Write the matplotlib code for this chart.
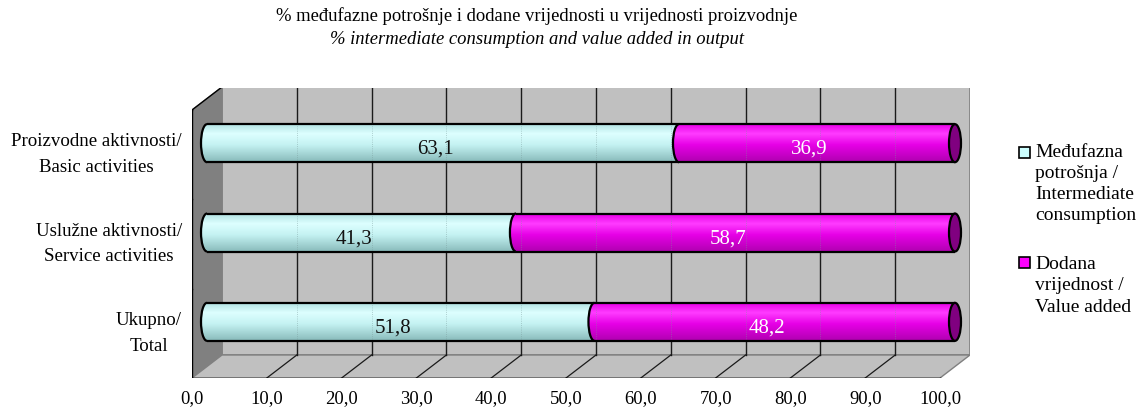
import numpy as np
import matplotlib
matplotlib.use('Agg')
import matplotlib.pyplot as plt
from matplotlib.patches import Polygon, Rectangle, Ellipse, Arc

plt.rcParams['font.family'] = ['Liberation Serif', 'DejaVu Serif']

# data (bottom to top)
categories = ['Ukupno/\nTotal',
              'Uslužne aktivnosti/\nService activities',
              'Proizvodne aktivnosti/\nBasic activities']
intermediate = [51.8, 41.3, 63.1]
value_added = [48.2, 58.7, 36.9]
series_labels = ['Međufazna\npotrošnja /\nIntermediate\nconsumption',
                 'Dodana\nvrijednost /\nValue added']
x_ticks = [0, 10, 20, 30, 40, 50, 60, 70, 80, 90, 100]
x_tick_labels = ['0,0', '10,0', '20,0', '30,0', '40,0', '50,0',
                 '60,0', '70,0', '80,0', '90,0', '100,0']
title_hr = '% međufazne potrošnje i dodane vrijednosti u vrijednosti proizvodnje'
title_en = '% intermediate consumption and value added in output'

# layout in pixels
W, H = 1137, 408
AX_L, AX_R, AX_T, AX_B = 192, 970, 88, 378
PX_X = 7.48     # pixels per percent
PX_Y = 89.33    # pixels per category
DX = 30 / PX_X  # depth offset
DY = 23 / PX_Y
BAR_H = 38 / PX_Y
CAP_W = 12 / PX_X
FS = 13.4

CYAN = ['#B4E4E4', '#DDFFFF', '#C4F2F2', '#88BABA']
MAGENTA = ['#E800E8', '#FF3CFF', '#E600E6', '#B000B0']
CAP_COLOR = '#800080'


def gradient(stops, n=80):
    pos = [0.0, 0.25, 0.55, 1.0]
    rgb = np.array([matplotlib.colors.to_rgb(c) for c in stops])
    t = np.linspace(0, 1, n)
    arr = np.stack([np.interp(t, pos, rgb[:, k]) for k in range(3)], axis=-1)
    return arr[:, None, :]


def draw_segment(ax, x0, x1, yc, stops, end_cap=None, z=5):
    img = gradient(stops)
    yb, yt = yc - BAR_H / 2, yc + BAR_H / 2
    body = Rectangle((x0, yb), x1 - x0, BAR_H, facecolor='none', edgecolor='none')
    left = Ellipse((x0, yc), CAP_W, BAR_H, facecolor='none', edgecolor='none')
    for clip in (body, left):
        ax.add_patch(clip)
        im = ax.imshow(img, extent=[x0 - CAP_W, x1, yb, yt], aspect='auto',
                       interpolation='bilinear', zorder=z)
        im.set_clip_path(clip)
    # faint gridlines through the bar
    for v in x_ticks[1:-1]:
        gx = v + DX
        if x0 < gx < x1:
            ax.plot([gx, gx], [yb, yt], color='#7a9a9a', lw=0.6, ls=':',
                    alpha=0.6, zorder=z + 0.1)
    ax.plot([x0, x1], [yt, yt], color='black', lw=1.6, zorder=z + 0.2,
            solid_capstyle='butt')
    ax.plot([x0, x1], [yb, yb], color='black', lw=1.6, zorder=z + 0.2,
            solid_capstyle='butt')
    ax.add_patch(Arc((x0, yc), CAP_W, BAR_H, theta1=90, theta2=270,
                     color='black', lw=1.6, zorder=z + 0.2))
    if end_cap is not None:
        ax.add_patch(Ellipse((x1, yc), CAP_W, BAR_H, facecolor=end_cap,
                             edgecolor='black', lw=1.6, zorder=z + 0.3))


fig = plt.figure(figsize=(W / 100, H / 100), dpi=100)
ax = fig.add_axes([AX_L / W, 1 - AX_B / H, (AX_R - AX_L) / W, (AX_B - AX_T) / H])
ax.set_axis_off()
n = len(categories)

# walls and floor
ax.add_patch(Polygon([(DX, DY), (100 + DX, DY), (100 + DX, n + DY), (DX, n + DY)],
                     closed=True, facecolor='#C0C0C0', edgecolor='#808080', lw=1.2, zorder=1))
ax.add_patch(Polygon([(0, 0), (DX, DY), (DX, n + DY), (0, n)],
                     closed=True, facecolor='#808080', edgecolor='#808080', lw=1, zorder=1))
ax.add_patch(Polygon([(0, 0), (100, 0), (100 + DX, DY), (DX, DY)],
                     closed=True, facecolor='#C0C0C0', edgecolor='#808080', lw=1, zorder=1))
for v in x_ticks[1:-1]:
    ax.plot([v + DX, v + DX], [DY, n + DY], color='#1a1a1a', lw=1, zorder=2)
    ax.plot([v, v + DX], [0, DY], color='#1a1a1a', lw=0.9, zorder=2)
ax.plot([0, DX], [n, n + DY], color='black', lw=1, zorder=2)

# axes lines and ticks
ax.plot([0, 0], [0, n], color='black', lw=1, zorder=3)
ax.plot([0, 100], [0, 0], color='black', lw=1, zorder=3)
for i in range(n + 1):
    ax.plot([-6 / PX_X, 0], [i, i], color='black', lw=1, zorder=3)
for v, lab in zip(x_ticks, x_tick_labels):
    ax.plot([v, v], [0, -5 / PX_Y], color='black', lw=1, zorder=3)
    ax.annotate(lab, xy=(v, 0), xytext=(0, -12), textcoords='offset pixels',
                ha='center', va='top', fontsize=FS, annotation_clip=False)

for i, cat in enumerate(categories):
    ax.annotate(cat, xy=(0, i + 0.5), xytext=(-10, 0), textcoords='offset pixels',
                ha='right', va='center', multialignment='center', fontsize=FS + 0.2,
                linespacing=1.68, annotation_clip=False)

# cylinders
for i in range(n):
    yc = i + 0.5 + DY / 2
    a, b = intermediate[i], value_added[i]
    x0 = DX / 2
    draw_segment(ax, x0, x0 + a, yc, CYAN, z=5)
    draw_segment(ax, x0 + a, x0 + a + b, yc, MAGENTA, end_cap=CAP_COLOR, z=6)
    ax.text(x0 + a / 2 - 1.0, yc - 0.07, f'{a:.1f}'.replace('.', ','),
            ha='center', va='center', fontsize=15, color='#111111', zorder=8)
    ax.text(x0 + a + b / 2 - 1.0, yc - 0.07, f'{b:.1f}'.replace('.', ','),
            ha='center', va='center', fontsize=15, color='white', zorder=8)

ax.set_xlim(0, (AX_R - AX_L) / PX_X)
ax.set_ylim(0, (AX_B - AX_T) / PX_Y)

# title
fig.text(537 / W, 1 - 16 / H, title_hr, ha='center', va='center', fontsize=FS)
fig.text(537 / W, 1 - 39 / H, title_en, ha='center', va='center', fontsize=FS,
         style='italic')

# legend
legend_colors = ['#CCFFFF', '#FF00FF']
legend_sq_y = [147, 257]
legend_txt_y = [184, 286]
for col, lab, sy, ty in zip(legend_colors, series_labels, legend_sq_y, legend_txt_y):
    fig.patches.append(Rectangle((1019 / W, 1 - (sy + 11) / H), 11 / W, 11 / H,
                                 transform=fig.transFigure, facecolor=col,
                                 edgecolor='black', lw=1.2))
    fig.text(1035 / W, 1 - ty / H, lab, ha='left', va='center', fontsize=14,
             linespacing=1.32)

fig.savefig('out.png', dpi=100)
